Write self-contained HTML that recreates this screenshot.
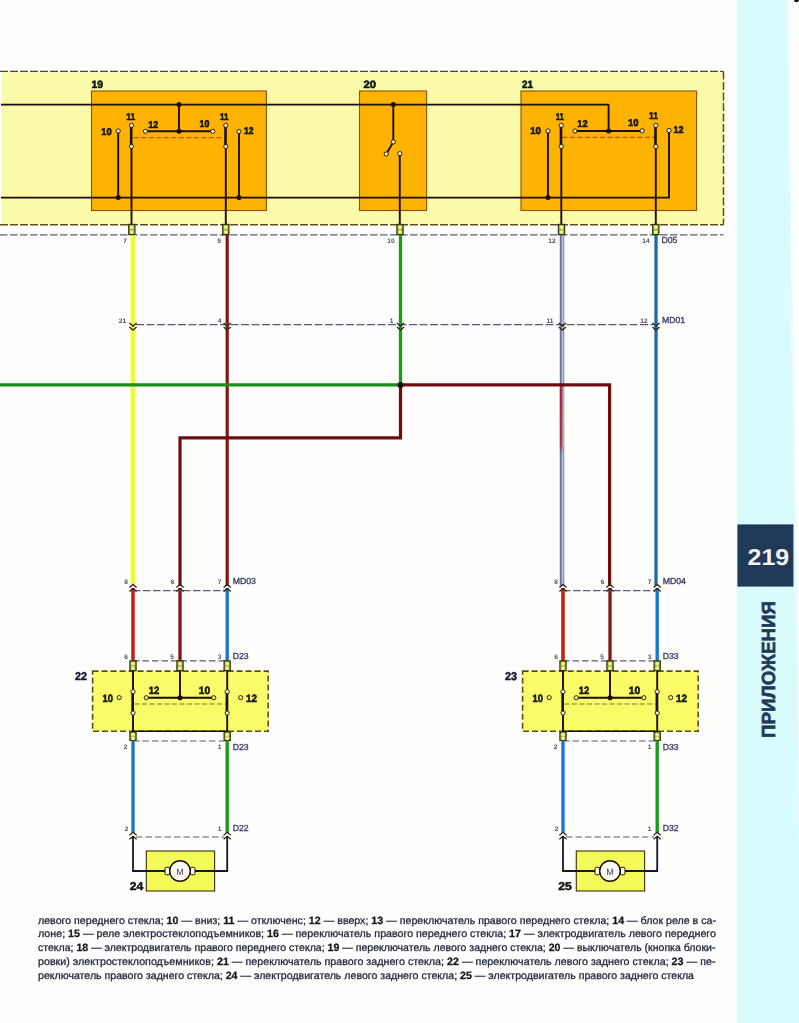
<!DOCTYPE html>
<html><head><meta charset="utf-8"><style>html,body{margin:0;padding:0;width:799px;height:1023px;overflow:hidden;background:#fefefd;font-family:"Liberation Sans",sans-serif}</style></head>
<body>
<svg width="799" height="1023" viewBox="0 0 799 1023" style="position:absolute;left:0;top:0" text-rendering="geometricPrecision">
<defs><filter id="bl" x="-30%" y="-5%" width="160%" height="110%"><feGaussianBlur stdDeviation="1.8"/></filter><filter id="sb" x="-5%" y="-5%" width="110%" height="110%"><feGaussianBlur stdDeviation="0.35"/></filter></defs>
<rect x="0" y="0" width="799" height="1023" fill="#fefefd" stroke="none" stroke-width="0" />
<polygon points="736.5,-10 787.5,-10 803,1035 736.5,1035" fill="#d8fbfb" filter="url(#bl)"/>
<ellipse cx="796.5" cy="0" rx="2.5" ry="2.3" fill="#111"/>
<g filter="url(#sb)">
<rect x="1.5" y="72.2" width="722" height="152.3" fill="#fbfaa9" stroke="none" stroke-width="0" />
<line x1="723.5" y1="71.5" x2="723.5" y2="224.8" stroke="#5e5018" stroke-width="1.5" stroke-dasharray="8 2.5"/>
<line x1="0" y1="224.8" x2="723.5" y2="224.8" stroke="#5e5018" stroke-width="1.5" stroke-dasharray="8 2"/>
<line x1="0" y1="71.4" x2="723.5" y2="71.4" stroke="#4a4a3a" stroke-width="1.4" stroke-dasharray="8 2"/>
<line x1="0" y1="234.8" x2="723.5" y2="234.8" stroke="#585a80" stroke-width="1.3" stroke-dasharray="7.5 2.5"/>
<rect x="91.5" y="91" width="174.89999999999998" height="119.5" fill="#fdb300" stroke="#8a5208" stroke-width="1.1" />
<rect x="359.5" y="91" width="67.10000000000002" height="119.5" fill="#fdb300" stroke="#8a5208" stroke-width="1.1" />
<rect x="521" y="91" width="175.60000000000002" height="119.5" fill="#fdb300" stroke="#8a5208" stroke-width="1.1" />
<line x1="1" y1="104.6" x2="609" y2="104.6" stroke="#1c0c06" stroke-width="1.9" />
<line x1="608.6" y1="104.6" x2="608.6" y2="131" stroke="#1c0c06" stroke-width="1.9" />
<line x1="1" y1="197.6" x2="669.8" y2="197.6" stroke="#1c0c06" stroke-width="1.9" />
<circle cx="179" cy="104.6" r="2.5" fill="#1c0c06" stroke="none" stroke-width="0"/>
<line x1="179" y1="104.6" x2="179" y2="131.3" stroke="#1c0c06" stroke-width="1.9" />
<line x1="145.4" y1="131.3" x2="212.8" y2="131.3" stroke="#1c0c06" stroke-width="1.9" />
<circle cx="179" cy="131.3" r="2.5" fill="#1c0c06" stroke="none" stroke-width="0"/>
<line x1="118.2" y1="131" x2="118.2" y2="197.6" stroke="#1c0c06" stroke-width="1.9" />
<circle cx="118.2" cy="197.6" r="2.5" fill="#1c0c06" stroke="none" stroke-width="0"/>
<line x1="239" y1="131.5" x2="239" y2="197.6" stroke="#1c0c06" stroke-width="1.9" />
<circle cx="239" cy="197.6" r="2.5" fill="#1c0c06" stroke="none" stroke-width="0"/>
<line x1="133.8" y1="137.6" x2="223.5" y2="137.6" stroke="#c45010" stroke-width="1.1" stroke-dasharray="5 2.5"/>
<circle cx="145.4" cy="131.3" r="2.1" fill="#fff4d8" stroke="#1c0c06" stroke-width="0.9"/>
<circle cx="212.8" cy="131.3" r="2.1" fill="#fff4d8" stroke="#1c0c06" stroke-width="0.9"/>
<circle cx="118.2" cy="131" r="2.1" fill="#fff4d8" stroke="#1c0c06" stroke-width="0.9"/>
<circle cx="239" cy="131.5" r="2.1" fill="#fff4d8" stroke="#1c0c06" stroke-width="0.9"/>
<line x1="131.2" y1="126.5" x2="131.2" y2="145" stroke="#1c0c06" stroke-width="2.6" />
<circle cx="131.5" cy="125.4" r="2.1" fill="#fff4d8" stroke="#1c0c06" stroke-width="0.9"/>
<circle cx="131.5" cy="146.5" r="2.1" fill="#fff4d8" stroke="#1c0c06" stroke-width="0.9"/>
<line x1="131.5" y1="148.5" x2="131.5" y2="224.5" stroke="#1c0c06" stroke-width="1.9" />
<line x1="225.5" y1="126.5" x2="225.5" y2="145" stroke="#1c0c06" stroke-width="2.6" />
<circle cx="225.8" cy="125.4" r="2.1" fill="#fff4d8" stroke="#1c0c06" stroke-width="0.9"/>
<circle cx="225.8" cy="146.5" r="2.1" fill="#fff4d8" stroke="#1c0c06" stroke-width="0.9"/>
<line x1="225.8" y1="148.5" x2="225.8" y2="224.5" stroke="#1c0c06" stroke-width="1.9" />
<line x1="575" y1="131" x2="642.2" y2="131" stroke="#1c0c06" stroke-width="1.9" />
<circle cx="608.6" cy="131" r="2.5" fill="#1c0c06" stroke="none" stroke-width="0"/>
<line x1="548" y1="131" x2="548" y2="197.6" stroke="#1c0c06" stroke-width="1.9" />
<circle cx="548" cy="197.6" r="2.5" fill="#1c0c06" stroke="none" stroke-width="0"/>
<line x1="669" y1="130.5" x2="669" y2="197.6" stroke="#1c0c06" stroke-width="1.9" />
<line x1="562.5" y1="137.4" x2="654.5" y2="137.4" stroke="#c45010" stroke-width="1.1" stroke-dasharray="5 2.5"/>
<circle cx="575" cy="131" r="2.1" fill="#fff4d8" stroke="#1c0c06" stroke-width="0.9"/>
<circle cx="642.2" cy="130.8" r="2.1" fill="#fff4d8" stroke="#1c0c06" stroke-width="0.9"/>
<circle cx="548" cy="131" r="2.1" fill="#fff4d8" stroke="#1c0c06" stroke-width="0.9"/>
<circle cx="669" cy="130.5" r="2.1" fill="#fff4d8" stroke="#1c0c06" stroke-width="0.9"/>
<line x1="561.0" y1="126.5" x2="561.0" y2="145" stroke="#1c0c06" stroke-width="2.6" />
<circle cx="561.3" cy="125.4" r="2.1" fill="#fff4d8" stroke="#1c0c06" stroke-width="0.9"/>
<circle cx="561.3" cy="146.5" r="2.1" fill="#fff4d8" stroke="#1c0c06" stroke-width="0.9"/>
<line x1="561.3" y1="148.5" x2="561.3" y2="224.5" stroke="#1c0c06" stroke-width="1.9" />
<line x1="655.5" y1="126.5" x2="655.5" y2="145" stroke="#1c0c06" stroke-width="2.6" />
<circle cx="655.8" cy="125.4" r="2.1" fill="#fff4d8" stroke="#1c0c06" stroke-width="0.9"/>
<circle cx="655.8" cy="146.5" r="2.1" fill="#fff4d8" stroke="#1c0c06" stroke-width="0.9"/>
<line x1="655.8" y1="148.5" x2="655.8" y2="224.5" stroke="#1c0c06" stroke-width="1.9" />
<circle cx="393.3" cy="104.6" r="2.5" fill="#1c0c06" stroke="none" stroke-width="0"/>
<line x1="393.3" y1="104.6" x2="393.3" y2="140" stroke="#1c0c06" stroke-width="1.9" />
<line x1="392.3" y1="143.6" x2="387.4" y2="152.3" stroke="#1c0c06" stroke-width="1.9" />
<circle cx="393.3" cy="141.9" r="2.1" fill="#fff4d8" stroke="#1c0c06" stroke-width="0.9"/>
<circle cx="386.2" cy="154" r="2.1" fill="#fff4d8" stroke="#1c0c06" stroke-width="0.9"/>
<circle cx="399.8" cy="153.6" r="2.1" fill="#fff4d8" stroke="#1c0c06" stroke-width="0.9"/>
<line x1="399.8" y1="155.6" x2="399.8" y2="224.5" stroke="#1c0c06" stroke-width="1.9" />
<text x="91.5" y="87.6" font-size="10.5" fill="#141414" font-weight="bold" text-anchor="start" font-family="Liberation Sans, sans-serif" textLength="11.5" lengthAdjust="spacingAndGlyphs" stroke="#141414" stroke-width="0.6">19</text>
<text x="363.6" y="87.6" font-size="10.5" fill="#141414" font-weight="bold" text-anchor="start" font-family="Liberation Sans, sans-serif" textLength="12.5" lengthAdjust="spacingAndGlyphs" stroke="#141414" stroke-width="0.6">20</text>
<text x="522" y="87.6" font-size="10.5" fill="#141414" font-weight="bold" text-anchor="start" font-family="Liberation Sans, sans-serif" textLength="11" lengthAdjust="spacingAndGlyphs" stroke="#141414" stroke-width="0.6">21</text>
<text x="101.3" y="134.70000000000002" font-size="9.9" fill="#141414" font-weight="bold" text-anchor="start" font-family="Liberation Sans, sans-serif" textLength="10.3" lengthAdjust="spacingAndGlyphs" stroke="#141414" stroke-width="0.6">10</text>
<text x="126.3" y="120.3" font-size="9.9" fill="#141414" font-weight="bold" text-anchor="start" font-family="Liberation Sans, sans-serif" textLength="9.0" lengthAdjust="spacingAndGlyphs" stroke="#141414" stroke-width="0.6">11</text>
<text x="148.2" y="127.6" font-size="9.9" fill="#141414" font-weight="bold" text-anchor="start" font-family="Liberation Sans, sans-serif" textLength="10.0" lengthAdjust="spacingAndGlyphs" stroke="#141414" stroke-width="0.6">12</text>
<text x="199.5" y="126.8" font-size="9.9" fill="#141414" font-weight="bold" text-anchor="start" font-family="Liberation Sans, sans-serif" textLength="9.8" lengthAdjust="spacingAndGlyphs" stroke="#141414" stroke-width="0.6">10</text>
<text x="220" y="120.3" font-size="9.9" fill="#141414" font-weight="bold" text-anchor="start" font-family="Liberation Sans, sans-serif" textLength="8.5" lengthAdjust="spacingAndGlyphs" stroke="#141414" stroke-width="0.6">11</text>
<text x="244" y="134.3" font-size="9.9" fill="#141414" font-weight="bold" text-anchor="start" font-family="Liberation Sans, sans-serif" textLength="9.6" lengthAdjust="spacingAndGlyphs" stroke="#141414" stroke-width="0.6">12</text>
<text x="530.3" y="134.10000000000002" font-size="9.9" fill="#141414" font-weight="bold" text-anchor="start" font-family="Liberation Sans, sans-serif" textLength="10.6" lengthAdjust="spacingAndGlyphs" stroke="#141414" stroke-width="0.6">10</text>
<text x="555.7" y="119.7" font-size="9.9" fill="#141414" font-weight="bold" text-anchor="start" font-family="Liberation Sans, sans-serif" textLength="8.1" lengthAdjust="spacingAndGlyphs" stroke="#141414" stroke-width="0.6">11</text>
<text x="577.3" y="126.6" font-size="9.9" fill="#141414" font-weight="bold" text-anchor="start" font-family="Liberation Sans, sans-serif" textLength="10.3" lengthAdjust="spacingAndGlyphs" stroke="#141414" stroke-width="0.6">12</text>
<text x="628" y="125.8" font-size="9.9" fill="#141414" font-weight="bold" text-anchor="start" font-family="Liberation Sans, sans-serif" textLength="10.5" lengthAdjust="spacingAndGlyphs" stroke="#141414" stroke-width="0.6">10</text>
<text x="649" y="119.3" font-size="9.9" fill="#141414" font-weight="bold" text-anchor="start" font-family="Liberation Sans, sans-serif" textLength="9.0" lengthAdjust="spacingAndGlyphs" stroke="#141414" stroke-width="0.6">11</text>
<text x="673.5" y="133.3" font-size="9.9" fill="#141414" font-weight="bold" text-anchor="start" font-family="Liberation Sans, sans-serif" textLength="10.1" lengthAdjust="spacingAndGlyphs" stroke="#141414" stroke-width="0.6">12</text>
<line x1="133" y1="235" x2="133" y2="584" stroke="#f8fca0" stroke-width="6" />
<line x1="133" y1="235" x2="133" y2="584" stroke="#eef83c" stroke-width="4" />
<line x1="227.2" y1="235" x2="227.2" y2="586" stroke="#80180e" stroke-width="3.2" />
<line x1="400.5" y1="235" x2="400.5" y2="385" stroke="#1c9a1c" stroke-width="3.3" />
<line x1="0" y1="384.9" x2="400.5" y2="384.9" stroke="#1a8e1a" stroke-width="3.2" />
<line x1="562.1" y1="235" x2="562.1" y2="586" stroke="#8c95b2" stroke-width="4.5" />
<line x1="560.6" y1="235" x2="560.6" y2="586" stroke="#6a7494" stroke-width="1.4" />
<line x1="562.5" y1="235" x2="562.5" y2="586" stroke="#b8c0da" stroke-width="1.3" />
<defs><linearGradient id="rg" x1="0" y1="0" x2="0" y2="1"><stop offset="0" stop-color="#a02838" stop-opacity="0.95"/><stop offset="0.8" stop-color="#a02838" stop-opacity="0.8"/><stop offset="1" stop-color="#a02838" stop-opacity="0"/></linearGradient></defs>
<rect x="559.8" y="386" width="2.8" height="70" fill="url(#rg)" stroke="none" stroke-width="0" />
<rect x="562.6" y="386" width="1" height="60" fill="#e8b8c0" stroke="none" stroke-width="0" opacity="0.8"/>
<line x1="656" y1="235" x2="656" y2="586" stroke="#1a6aae" stroke-width="3.3" />
<polyline points="400.5,384.9 400.5,437.9 180,437.9 180,586" fill="none" stroke="#6e1010" stroke-width="3.2" stroke-linejoin="miter" />
<polyline points="400.5,384.9 609.6,384.9 609.6,586" fill="none" stroke="#6e1010" stroke-width="3.2" stroke-linejoin="miter" />
<circle cx="400.5" cy="384.9" r="3" fill="#1c0c06" stroke="none" stroke-width="0"/>
<rect x="128.70000000000002" y="224.4" width="6.2" height="10.2" fill="#a8b030" stroke="#34340a" stroke-width="1.2" />
<circle cx="131.8" cy="227.3" r="1.9" fill="#e8f290" stroke="none" stroke-width="0"/>
<circle cx="131.8" cy="232.03" r="1.9" fill="#e8f290" stroke="none" stroke-width="0"/>
<rect x="222.70000000000002" y="224.4" width="6.2" height="10.2" fill="#a8b030" stroke="#34340a" stroke-width="1.2" />
<circle cx="225.8" cy="227.3" r="1.9" fill="#e8f290" stroke="none" stroke-width="0"/>
<circle cx="225.8" cy="232.03" r="1.9" fill="#e8f290" stroke="none" stroke-width="0"/>
<rect x="396.9" y="224.4" width="6.2" height="10.2" fill="#a8b030" stroke="#34340a" stroke-width="1.2" />
<circle cx="400" cy="227.3" r="1.9" fill="#e8f290" stroke="none" stroke-width="0"/>
<circle cx="400" cy="232.03" r="1.9" fill="#e8f290" stroke="none" stroke-width="0"/>
<rect x="558.4" y="224.4" width="6.2" height="10.2" fill="#a8b030" stroke="#34340a" stroke-width="1.2" />
<circle cx="561.5" cy="227.3" r="1.9" fill="#e8f290" stroke="none" stroke-width="0"/>
<circle cx="561.5" cy="232.03" r="1.9" fill="#e8f290" stroke="none" stroke-width="0"/>
<rect x="652.6999999999999" y="224.4" width="6.2" height="10.2" fill="#a8b030" stroke="#34340a" stroke-width="1.2" />
<circle cx="655.8" cy="227.3" r="1.9" fill="#e8f290" stroke="none" stroke-width="0"/>
<circle cx="655.8" cy="232.03" r="1.9" fill="#e8f290" stroke="none" stroke-width="0"/>
<line x1="136" y1="324.7" x2="653" y2="324.7" stroke="#585a80" stroke-width="1.2" stroke-dasharray="8 2.5"/>
<polyline points="129.4,323.0 133,326.0 136.6,323.0" fill="none" stroke="#3a2a18" stroke-width="1.4"/>
<polyline points="129.4,327.0 133,330.0 136.6,327.0" fill="none" stroke="#3a2a18" stroke-width="1.4"/>
<polyline points="223.6,323.0 227.2,326.0 230.79999999999998,323.0" fill="none" stroke="#3a2a18" stroke-width="1.4"/>
<polyline points="223.6,327.0 227.2,330.0 230.79999999999998,327.0" fill="none" stroke="#3a2a18" stroke-width="1.4"/>
<polyline points="396.9,323.0 400.5,326.0 404.1,323.0" fill="none" stroke="#3a2a18" stroke-width="1.4"/>
<polyline points="396.9,327.0 400.5,330.0 404.1,327.0" fill="none" stroke="#3a2a18" stroke-width="1.4"/>
<polyline points="558.8,323.0 562.4,326.0 566.0,323.0" fill="none" stroke="#3a2a18" stroke-width="1.4"/>
<polyline points="558.8,327.0 562.4,330.0 566.0,327.0" fill="none" stroke="#3a2a18" stroke-width="1.4"/>
<polyline points="652.4,323.0 656,326.0 659.6,323.0" fill="none" stroke="#3a2a18" stroke-width="1.4"/>
<polyline points="652.4,327.0 656,330.0 659.6,327.0" fill="none" stroke="#3a2a18" stroke-width="1.4"/>
<text x="122.5" y="322.5" font-size="6.6" fill="#50505e" font-weight="bold" text-anchor="middle" font-family="Liberation Sans, sans-serif" >21</text>
<text x="219.5" y="322.5" font-size="6.6" fill="#50505e" font-weight="bold" text-anchor="middle" font-family="Liberation Sans, sans-serif" >4</text>
<text x="391.5" y="322.5" font-size="6.6" fill="#50505e" font-weight="bold" text-anchor="middle" font-family="Liberation Sans, sans-serif" >1</text>
<text x="550" y="322.5" font-size="6.6" fill="#50505e" font-weight="bold" text-anchor="middle" font-family="Liberation Sans, sans-serif" >11</text>
<text x="644" y="322.5" font-size="6.6" fill="#50505e" font-weight="bold" text-anchor="middle" font-family="Liberation Sans, sans-serif" >12</text>
<text x="662" y="322.5" font-size="8.7" fill="#3c3e68" font-weight="normal" text-anchor="start" font-family="Liberation Sans, sans-serif" stroke="#3c3e68" stroke-width="0.35">MD01</text>
<text x="125" y="242.5" font-size="6.6" fill="#50505e" font-weight="bold" text-anchor="middle" font-family="Liberation Sans, sans-serif" >7</text>
<text x="219" y="242.5" font-size="6.6" fill="#50505e" font-weight="bold" text-anchor="middle" font-family="Liberation Sans, sans-serif" >9</text>
<text x="391" y="242.5" font-size="6.6" fill="#50505e" font-weight="bold" text-anchor="middle" font-family="Liberation Sans, sans-serif" >10</text>
<text x="552" y="242.5" font-size="6.6" fill="#50505e" font-weight="bold" text-anchor="middle" font-family="Liberation Sans, sans-serif" >12</text>
<text x="646" y="242.5" font-size="6.6" fill="#50505e" font-weight="bold" text-anchor="middle" font-family="Liberation Sans, sans-serif" >14</text>
<text x="661.5" y="242.8" font-size="8.7" fill="#3c3e68" font-weight="normal" text-anchor="start" font-family="Liberation Sans, sans-serif" stroke="#3c3e68" stroke-width="0.35">D05</text>
<line x1="133" y1="588" x2="133" y2="661" stroke="#c41c16" stroke-width="3.5" />
<line x1="180" y1="588" x2="180" y2="661" stroke="#80180e" stroke-width="3.3" />
<line x1="227.2" y1="588" x2="227.2" y2="661" stroke="#1c76d4" stroke-width="3.4" />
<line x1="133" y1="590.7" x2="227.2" y2="590.7" stroke="#585a80" stroke-width="1.2" stroke-dasharray="7.5 2.5"/>
<polyline points="129.4,591.5 133,588.5 136.6,591.5" fill="none" stroke="#3a2a18" stroke-width="1.4"/>
<polyline points="129.4,587.5 133,584.5 136.6,587.5" fill="none" stroke="#3a2a18" stroke-width="1.4"/>
<polyline points="176.4,591.5 180,588.5 183.6,591.5" fill="none" stroke="#3a2a18" stroke-width="1.4"/>
<polyline points="176.4,587.5 180,584.5 183.6,587.5" fill="none" stroke="#3a2a18" stroke-width="1.4"/>
<polyline points="223.6,591.5 227.2,588.5 230.79999999999998,591.5" fill="none" stroke="#3a2a18" stroke-width="1.4"/>
<polyline points="223.6,587.5 227.2,584.5 230.79999999999998,587.5" fill="none" stroke="#3a2a18" stroke-width="1.4"/>
<text x="126" y="583.5" font-size="6.6" fill="#50505e" font-weight="bold" text-anchor="middle" font-family="Liberation Sans, sans-serif" >8</text>
<text x="172.5" y="583.5" font-size="6.6" fill="#50505e" font-weight="bold" text-anchor="middle" font-family="Liberation Sans, sans-serif" >6</text>
<text x="219.7" y="583.5" font-size="6.6" fill="#50505e" font-weight="bold" text-anchor="middle" font-family="Liberation Sans, sans-serif" >7</text>
<text x="232.7" y="583.8" font-size="8.7" fill="#3c3e68" font-weight="normal" text-anchor="start" font-family="Liberation Sans, sans-serif" stroke="#3c3e68" stroke-width="0.35">MD03</text>
<line x1="133" y1="660.8" x2="227.2" y2="660.8" stroke="#585a80" stroke-width="1.2" stroke-dasharray="6.5 3"/>
<rect x="92.6" y="671.1" width="175.6" height="60.2" fill="#f9fb68" stroke="none" stroke-width="0" />
<rect x="92.6" y="671.1" width="175.6" height="60.2" fill="none" stroke="#5e5018" stroke-width="1.6" stroke-dasharray="6 3"/>
<line x1="133" y1="731.2" x2="227.2" y2="731.2" stroke="#1c0c06" stroke-width="1.4" />
<rect x="129.9" y="660.9" width="6.2" height="9.7" fill="#a8b030" stroke="#34340a" stroke-width="1.2" />
<circle cx="133" cy="663.65" r="1.9" fill="#e8f290" stroke="none" stroke-width="0"/>
<circle cx="133" cy="668.165" r="1.9" fill="#e8f290" stroke="none" stroke-width="0"/>
<rect x="176.9" y="660.9" width="6.2" height="9.7" fill="#a8b030" stroke="#34340a" stroke-width="1.2" />
<circle cx="180" cy="663.65" r="1.9" fill="#e8f290" stroke="none" stroke-width="0"/>
<circle cx="180" cy="668.165" r="1.9" fill="#e8f290" stroke="none" stroke-width="0"/>
<rect x="224.1" y="660.9" width="6.2" height="9.7" fill="#a8b030" stroke="#34340a" stroke-width="1.2" />
<circle cx="227.2" cy="663.65" r="1.9" fill="#e8f290" stroke="none" stroke-width="0"/>
<circle cx="227.2" cy="668.165" r="1.9" fill="#e8f290" stroke="none" stroke-width="0"/>
<text x="126" y="658.8" font-size="6.6" fill="#50505e" font-weight="bold" text-anchor="middle" font-family="Liberation Sans, sans-serif" >6</text>
<text x="172" y="658.8" font-size="6.6" fill="#50505e" font-weight="bold" text-anchor="middle" font-family="Liberation Sans, sans-serif" >5</text>
<text x="219.7" y="658.8" font-size="6.6" fill="#50505e" font-weight="bold" text-anchor="middle" font-family="Liberation Sans, sans-serif" >3</text>
<text x="232.7" y="659.2" font-size="8.7" fill="#3c3e68" font-weight="normal" text-anchor="start" font-family="Liberation Sans, sans-serif" stroke="#3c3e68" stroke-width="0.35">D23</text>
<text x="74.9" y="680" font-size="11.4" fill="#141830" font-weight="bold" text-anchor="start" font-family="Liberation Sans, sans-serif" textLength="12" lengthAdjust="spacingAndGlyphs" stroke="#141830" stroke-width="0.5">22</text>
<line x1="180" y1="671" x2="180" y2="697.7" stroke="#1c0c06" stroke-width="1.9" />
<line x1="146.3" y1="697.7" x2="213.8" y2="697.7" stroke="#1c0c06" stroke-width="1.9" />
<circle cx="180" cy="697.7" r="2.5" fill="#1c0c06" stroke="none" stroke-width="0"/>
<circle cx="146.3" cy="697.7" r="2.1" fill="#f9fb68" stroke="#1c0c06" stroke-width="0.9"/>
<circle cx="213.8" cy="697.7" r="2.1" fill="#f9fb68" stroke="#1c0c06" stroke-width="0.9"/>
<circle cx="119.2" cy="697.6" r="2.1" fill="#f9fb68" stroke="#1c0c06" stroke-width="0.9"/>
<circle cx="240.7" cy="697.6" r="2.1" fill="#f9fb68" stroke="#1c0c06" stroke-width="0.9"/>
<text x="102.5" y="702.0" font-size="10.6" fill="#141414" font-weight="bold" text-anchor="start" font-family="Liberation Sans, sans-serif" textLength="10.4" lengthAdjust="spacingAndGlyphs" stroke="#141414" stroke-width="0.6">10</text>
<text x="148.8" y="694.0999999999999" font-size="10.6" fill="#141414" font-weight="bold" text-anchor="start" font-family="Liberation Sans, sans-serif" textLength="10.5" lengthAdjust="spacingAndGlyphs" stroke="#141414" stroke-width="0.6">12</text>
<text x="198.8" y="694.0999999999999" font-size="10.6" fill="#141414" font-weight="bold" text-anchor="start" font-family="Liberation Sans, sans-serif" textLength="11.3" lengthAdjust="spacingAndGlyphs" stroke="#141414" stroke-width="0.6">10</text>
<text x="246" y="702.0" font-size="10.6" fill="#141414" font-weight="bold" text-anchor="start" font-family="Liberation Sans, sans-serif" textLength="11.0" lengthAdjust="spacingAndGlyphs" stroke="#141414" stroke-width="0.6">12</text>
<line x1="134.5" y1="704" x2="225.7" y2="704" stroke="#7a7420" stroke-width="1.1" stroke-dasharray="5 2.5"/>
<line x1="133" y1="671" x2="133" y2="732" stroke="#1c0c06" stroke-width="1.9" />
<line x1="132.7" y1="693" x2="132.7" y2="711.5" stroke="#1c0c06" stroke-width="2.6" />
<circle cx="133" cy="691.7" r="2.1" fill="#fffbe0" stroke="#1c0c06" stroke-width="0.9"/>
<circle cx="133" cy="713" r="2.1" fill="#fffbe0" stroke="#1c0c06" stroke-width="0.9"/>
<line x1="227.2" y1="671" x2="227.2" y2="732" stroke="#1c0c06" stroke-width="1.9" />
<line x1="226.89999999999998" y1="693" x2="226.89999999999998" y2="711.5" stroke="#1c0c06" stroke-width="2.6" />
<circle cx="227.2" cy="691.7" r="2.1" fill="#fffbe0" stroke="#1c0c06" stroke-width="0.9"/>
<circle cx="227.2" cy="713" r="2.1" fill="#fffbe0" stroke="#1c0c06" stroke-width="0.9"/>
<rect x="129.9" y="732.1999999999999" width="6.2" height="8.2" fill="#a8b030" stroke="#34340a" stroke-width="1.2" />
<circle cx="133" cy="734.5" r="1.9" fill="#e8f290" stroke="none" stroke-width="0"/>
<circle cx="133" cy="738.37" r="1.9" fill="#e8f290" stroke="none" stroke-width="0"/>
<rect x="224.1" y="732.1999999999999" width="6.2" height="8.2" fill="#a8b030" stroke="#34340a" stroke-width="1.2" />
<circle cx="227.2" cy="734.5" r="1.9" fill="#e8f290" stroke="none" stroke-width="0"/>
<circle cx="227.2" cy="738.37" r="1.9" fill="#e8f290" stroke="none" stroke-width="0"/>
<line x1="133" y1="741" x2="227.2" y2="741" stroke="#585a80" stroke-width="1.2" stroke-dasharray="6.5 3"/>
<text x="125.5" y="749" font-size="6.6" fill="#50505e" font-weight="bold" text-anchor="middle" font-family="Liberation Sans, sans-serif" >2</text>
<text x="219.7" y="749" font-size="6.6" fill="#50505e" font-weight="bold" text-anchor="middle" font-family="Liberation Sans, sans-serif" >1</text>
<text x="232.7" y="749.5" font-size="8.7" fill="#3c3e68" font-weight="normal" text-anchor="start" font-family="Liberation Sans, sans-serif" stroke="#3c3e68" stroke-width="0.35">D23</text>
<line x1="133" y1="741" x2="133" y2="833" stroke="#1c76d4" stroke-width="3.4" />
<line x1="227.2" y1="741" x2="227.2" y2="833" stroke="#1c9a1c" stroke-width="3.4" />
<line x1="136" y1="837" x2="224.2" y2="837" stroke="#585a80" stroke-width="1.2" stroke-dasharray="6.5 3"/>
<polyline points="129.4,839.3 133,836.3 136.6,839.3" fill="none" stroke="#3a2a18" stroke-width="1.4"/>
<polyline points="129.4,835.3 133,832.3 136.6,835.3" fill="none" stroke="#3a2a18" stroke-width="1.4"/>
<polyline points="223.6,839.3 227.2,836.3 230.79999999999998,839.3" fill="none" stroke="#3a2a18" stroke-width="1.4"/>
<polyline points="223.6,835.3 227.2,832.3 230.79999999999998,835.3" fill="none" stroke="#3a2a18" stroke-width="1.4"/>
<text x="126.5" y="830.5" font-size="6.6" fill="#50505e" font-weight="bold" text-anchor="middle" font-family="Liberation Sans, sans-serif" >2</text>
<text x="219.7" y="830.5" font-size="6.6" fill="#50505e" font-weight="bold" text-anchor="middle" font-family="Liberation Sans, sans-serif" >1</text>
<text x="232.7" y="830.8" font-size="8.7" fill="#3c3e68" font-weight="normal" text-anchor="start" font-family="Liberation Sans, sans-serif" stroke="#3c3e68" stroke-width="0.35">D22</text>
<rect x="146.3" y="851" width="68.3" height="40" fill="#f4fa58" stroke="#3a3010" stroke-width="1.1" />
<polyline points="133,836 133,871 227.2,871 227.2,836" fill="none" stroke="#141826" stroke-width="1.8" stroke-linejoin="miter" />
<rect x="165" y="867.3" width="4.6" height="7.5" fill="#fffce8" stroke="#1c0c06" stroke-width="1" rx="1.5"/>
<rect x="190.4" y="867.3" width="4.6" height="7.5" fill="#fffce8" stroke="#1c0c06" stroke-width="1" rx="1.5"/>
<circle cx="180" cy="871" r="10.3" fill="#fbf8ee" stroke="#1c0c06" stroke-width="1.4"/>
<text x="180" y="875" font-size="9" fill="#4a4070" font-weight="normal" text-anchor="middle" font-family="Liberation Sans, sans-serif" >M</text>
<text x="129.8" y="889.5" font-size="11.4" fill="#141414" font-weight="bold" text-anchor="start" font-family="Liberation Sans, sans-serif" textLength="13.5" lengthAdjust="spacingAndGlyphs" stroke="#141414" stroke-width="0.5">24</text>
<line x1="563" y1="588" x2="563" y2="661" stroke="#c41c16" stroke-width="3.5" />
<line x1="610" y1="588" x2="610" y2="661" stroke="#80180e" stroke-width="3.3" />
<line x1="657.2" y1="588" x2="657.2" y2="661" stroke="#1c76d4" stroke-width="3.4" />
<line x1="563" y1="590.7" x2="657.2" y2="590.7" stroke="#585a80" stroke-width="1.2" stroke-dasharray="7.5 2.5"/>
<polyline points="559.4,591.5 563,588.5 566.6,591.5" fill="none" stroke="#3a2a18" stroke-width="1.4"/>
<polyline points="559.4,587.5 563,584.5 566.6,587.5" fill="none" stroke="#3a2a18" stroke-width="1.4"/>
<polyline points="606.4,591.5 610,588.5 613.6,591.5" fill="none" stroke="#3a2a18" stroke-width="1.4"/>
<polyline points="606.4,587.5 610,584.5 613.6,587.5" fill="none" stroke="#3a2a18" stroke-width="1.4"/>
<polyline points="653.6,591.5 657.2,588.5 660.8000000000001,591.5" fill="none" stroke="#3a2a18" stroke-width="1.4"/>
<polyline points="653.6,587.5 657.2,584.5 660.8000000000001,587.5" fill="none" stroke="#3a2a18" stroke-width="1.4"/>
<text x="556" y="583.5" font-size="6.6" fill="#50505e" font-weight="bold" text-anchor="middle" font-family="Liberation Sans, sans-serif" >8</text>
<text x="602.5" y="583.5" font-size="6.6" fill="#50505e" font-weight="bold" text-anchor="middle" font-family="Liberation Sans, sans-serif" >6</text>
<text x="649.7" y="583.5" font-size="6.6" fill="#50505e" font-weight="bold" text-anchor="middle" font-family="Liberation Sans, sans-serif" >7</text>
<text x="662.7" y="583.8" font-size="8.7" fill="#3c3e68" font-weight="normal" text-anchor="start" font-family="Liberation Sans, sans-serif" stroke="#3c3e68" stroke-width="0.35">MD04</text>
<line x1="563" y1="660.8" x2="657.2" y2="660.8" stroke="#585a80" stroke-width="1.2" stroke-dasharray="6.5 3"/>
<rect x="522.6" y="671.1" width="175.6" height="60.2" fill="#f9fb68" stroke="none" stroke-width="0" />
<rect x="522.6" y="671.1" width="175.6" height="60.2" fill="none" stroke="#5e5018" stroke-width="1.6" stroke-dasharray="6 3"/>
<line x1="563" y1="731.2" x2="657.2" y2="731.2" stroke="#1c0c06" stroke-width="1.4" />
<rect x="559.9" y="660.9" width="6.2" height="9.7" fill="#a8b030" stroke="#34340a" stroke-width="1.2" />
<circle cx="563" cy="663.65" r="1.9" fill="#e8f290" stroke="none" stroke-width="0"/>
<circle cx="563" cy="668.165" r="1.9" fill="#e8f290" stroke="none" stroke-width="0"/>
<rect x="606.9" y="660.9" width="6.2" height="9.7" fill="#a8b030" stroke="#34340a" stroke-width="1.2" />
<circle cx="610" cy="663.65" r="1.9" fill="#e8f290" stroke="none" stroke-width="0"/>
<circle cx="610" cy="668.165" r="1.9" fill="#e8f290" stroke="none" stroke-width="0"/>
<rect x="654.1" y="660.9" width="6.2" height="9.7" fill="#a8b030" stroke="#34340a" stroke-width="1.2" />
<circle cx="657.2" cy="663.65" r="1.9" fill="#e8f290" stroke="none" stroke-width="0"/>
<circle cx="657.2" cy="668.165" r="1.9" fill="#e8f290" stroke="none" stroke-width="0"/>
<text x="556" y="658.8" font-size="6.6" fill="#50505e" font-weight="bold" text-anchor="middle" font-family="Liberation Sans, sans-serif" >6</text>
<text x="602" y="658.8" font-size="6.6" fill="#50505e" font-weight="bold" text-anchor="middle" font-family="Liberation Sans, sans-serif" >5</text>
<text x="649.7" y="658.8" font-size="6.6" fill="#50505e" font-weight="bold" text-anchor="middle" font-family="Liberation Sans, sans-serif" >3</text>
<text x="662.7" y="659.2" font-size="8.7" fill="#3c3e68" font-weight="normal" text-anchor="start" font-family="Liberation Sans, sans-serif" stroke="#3c3e68" stroke-width="0.35">D33</text>
<text x="504.9" y="680" font-size="11.4" fill="#141830" font-weight="bold" text-anchor="start" font-family="Liberation Sans, sans-serif" textLength="12" lengthAdjust="spacingAndGlyphs" stroke="#141830" stroke-width="0.5">23</text>
<line x1="610" y1="671" x2="610" y2="697.7" stroke="#1c0c06" stroke-width="1.9" />
<line x1="576.3" y1="697.7" x2="643.8" y2="697.7" stroke="#1c0c06" stroke-width="1.9" />
<circle cx="610" cy="697.7" r="2.5" fill="#1c0c06" stroke="none" stroke-width="0"/>
<circle cx="576.3" cy="697.7" r="2.1" fill="#f9fb68" stroke="#1c0c06" stroke-width="0.9"/>
<circle cx="643.8" cy="697.7" r="2.1" fill="#f9fb68" stroke="#1c0c06" stroke-width="0.9"/>
<circle cx="549.2" cy="697.6" r="2.1" fill="#f9fb68" stroke="#1c0c06" stroke-width="0.9"/>
<circle cx="670.7" cy="697.6" r="2.1" fill="#f9fb68" stroke="#1c0c06" stroke-width="0.9"/>
<text x="532.5" y="702.0" font-size="10.6" fill="#141414" font-weight="bold" text-anchor="start" font-family="Liberation Sans, sans-serif" textLength="10.4" lengthAdjust="spacingAndGlyphs" stroke="#141414" stroke-width="0.6">10</text>
<text x="578.8" y="694.0999999999999" font-size="10.6" fill="#141414" font-weight="bold" text-anchor="start" font-family="Liberation Sans, sans-serif" textLength="10.5" lengthAdjust="spacingAndGlyphs" stroke="#141414" stroke-width="0.6">12</text>
<text x="628.8" y="694.0999999999999" font-size="10.6" fill="#141414" font-weight="bold" text-anchor="start" font-family="Liberation Sans, sans-serif" textLength="11.3" lengthAdjust="spacingAndGlyphs" stroke="#141414" stroke-width="0.6">10</text>
<text x="676" y="702.0" font-size="10.6" fill="#141414" font-weight="bold" text-anchor="start" font-family="Liberation Sans, sans-serif" textLength="11.0" lengthAdjust="spacingAndGlyphs" stroke="#141414" stroke-width="0.6">12</text>
<line x1="564.5" y1="704" x2="655.7" y2="704" stroke="#7a7420" stroke-width="1.1" stroke-dasharray="5 2.5"/>
<line x1="563" y1="671" x2="563" y2="732" stroke="#1c0c06" stroke-width="1.9" />
<line x1="562.7" y1="693" x2="562.7" y2="711.5" stroke="#1c0c06" stroke-width="2.6" />
<circle cx="563" cy="691.7" r="2.1" fill="#fffbe0" stroke="#1c0c06" stroke-width="0.9"/>
<circle cx="563" cy="713" r="2.1" fill="#fffbe0" stroke="#1c0c06" stroke-width="0.9"/>
<line x1="657.2" y1="671" x2="657.2" y2="732" stroke="#1c0c06" stroke-width="1.9" />
<line x1="656.9000000000001" y1="693" x2="656.9000000000001" y2="711.5" stroke="#1c0c06" stroke-width="2.6" />
<circle cx="657.2" cy="691.7" r="2.1" fill="#fffbe0" stroke="#1c0c06" stroke-width="0.9"/>
<circle cx="657.2" cy="713" r="2.1" fill="#fffbe0" stroke="#1c0c06" stroke-width="0.9"/>
<rect x="559.9" y="732.1999999999999" width="6.2" height="8.2" fill="#a8b030" stroke="#34340a" stroke-width="1.2" />
<circle cx="563" cy="734.5" r="1.9" fill="#e8f290" stroke="none" stroke-width="0"/>
<circle cx="563" cy="738.37" r="1.9" fill="#e8f290" stroke="none" stroke-width="0"/>
<rect x="654.1" y="732.1999999999999" width="6.2" height="8.2" fill="#a8b030" stroke="#34340a" stroke-width="1.2" />
<circle cx="657.2" cy="734.5" r="1.9" fill="#e8f290" stroke="none" stroke-width="0"/>
<circle cx="657.2" cy="738.37" r="1.9" fill="#e8f290" stroke="none" stroke-width="0"/>
<line x1="563" y1="741" x2="657.2" y2="741" stroke="#585a80" stroke-width="1.2" stroke-dasharray="6.5 3"/>
<text x="555.5" y="749" font-size="6.6" fill="#50505e" font-weight="bold" text-anchor="middle" font-family="Liberation Sans, sans-serif" >2</text>
<text x="649.7" y="749" font-size="6.6" fill="#50505e" font-weight="bold" text-anchor="middle" font-family="Liberation Sans, sans-serif" >1</text>
<text x="662.7" y="749.5" font-size="8.7" fill="#3c3e68" font-weight="normal" text-anchor="start" font-family="Liberation Sans, sans-serif" stroke="#3c3e68" stroke-width="0.35">D33</text>
<line x1="563" y1="741" x2="563" y2="833" stroke="#1c76d4" stroke-width="3.4" />
<line x1="657.2" y1="741" x2="657.2" y2="833" stroke="#1c9a1c" stroke-width="3.4" />
<line x1="566" y1="837" x2="654.2" y2="837" stroke="#585a80" stroke-width="1.2" stroke-dasharray="6.5 3"/>
<polyline points="559.4,839.3 563,836.3 566.6,839.3" fill="none" stroke="#3a2a18" stroke-width="1.4"/>
<polyline points="559.4,835.3 563,832.3 566.6,835.3" fill="none" stroke="#3a2a18" stroke-width="1.4"/>
<polyline points="653.6,839.3 657.2,836.3 660.8000000000001,839.3" fill="none" stroke="#3a2a18" stroke-width="1.4"/>
<polyline points="653.6,835.3 657.2,832.3 660.8000000000001,835.3" fill="none" stroke="#3a2a18" stroke-width="1.4"/>
<text x="556.5" y="830.5" font-size="6.6" fill="#50505e" font-weight="bold" text-anchor="middle" font-family="Liberation Sans, sans-serif" >2</text>
<text x="649.7" y="830.5" font-size="6.6" fill="#50505e" font-weight="bold" text-anchor="middle" font-family="Liberation Sans, sans-serif" >1</text>
<text x="662.7" y="830.8" font-size="8.7" fill="#3c3e68" font-weight="normal" text-anchor="start" font-family="Liberation Sans, sans-serif" stroke="#3c3e68" stroke-width="0.35">D32</text>
<rect x="576.3" y="851" width="68.3" height="40" fill="#f4fa58" stroke="#3a3010" stroke-width="1.1" />
<polyline points="563,836 563,871 657.2,871 657.2,836" fill="none" stroke="#141826" stroke-width="1.8" stroke-linejoin="miter" />
<rect x="595" y="867.3" width="4.6" height="7.5" fill="#fffce8" stroke="#1c0c06" stroke-width="1" rx="1.5"/>
<rect x="620.4" y="867.3" width="4.6" height="7.5" fill="#fffce8" stroke="#1c0c06" stroke-width="1" rx="1.5"/>
<circle cx="610" cy="871" r="10.3" fill="#fbf8ee" stroke="#1c0c06" stroke-width="1.4"/>
<text x="610" y="875" font-size="9" fill="#4a4070" font-weight="normal" text-anchor="middle" font-family="Liberation Sans, sans-serif" >M</text>
<text x="558.3" y="889.5" font-size="11.4" fill="#141414" font-weight="bold" text-anchor="start" font-family="Liberation Sans, sans-serif" textLength="13.5" lengthAdjust="spacingAndGlyphs" stroke="#141414" stroke-width="0.5">25</text>
</g>
<rect x="737.4" y="524.4" width="56" height="62.2" fill="#1f3a58" stroke="none" stroke-width="0" />
<text x="768.3" y="564.5" font-size="23" fill="#f4f4f4" font-weight="bold" text-anchor="middle" font-family="Liberation Sans, sans-serif" textLength="41.5" lengthAdjust="spacingAndGlyphs">219</text>
<text transform="translate(775.3,669.4) rotate(-90)" font-size="19" fill="#1f3a58" stroke="#1f3a58" stroke-width="0.6" font-weight="bold" text-anchor="middle" textLength="137" lengthAdjust="spacingAndGlyphs" font-family="Liberation Sans, sans-serif">ПРИЛОЖЕНИЯ</text>
<g filter="url(#sb)">
<text x="38" y="923.5" font-size="10.6" fill="#262a40" stroke="#262a40" stroke-width="0.3" textLength="678" lengthAdjust="spacingAndGlyphs" font-family="Liberation Sans, sans-serif" xml:space="preserve"><tspan>левого переднего стекла; </tspan><tspan font-weight="bold" fill="#101010">10</tspan><tspan> — вниз; </tspan><tspan font-weight="bold" fill="#101010">11</tspan><tspan> — отключенс; </tspan><tspan font-weight="bold" fill="#101010">12</tspan><tspan> — вверх; </tspan><tspan font-weight="bold" fill="#101010">13</tspan><tspan> — переключатель правого переднего стекла; </tspan><tspan font-weight="bold" fill="#101010">14</tspan><tspan> — блок реле в са-</tspan></text>
<text x="38" y="937.2" font-size="10.6" fill="#262a40" stroke="#262a40" stroke-width="0.3" textLength="678" lengthAdjust="spacingAndGlyphs" font-family="Liberation Sans, sans-serif" xml:space="preserve"><tspan>лоне; </tspan><tspan font-weight="bold" fill="#101010">15</tspan><tspan> — реле электростеклоподъемников; </tspan><tspan font-weight="bold" fill="#101010">16</tspan><tspan> — переключатель правого переднего стекла; </tspan><tspan font-weight="bold" fill="#101010">17</tspan><tspan> — электродвигатель левого переднего</tspan></text>
<text x="38" y="951" font-size="10.6" fill="#262a40" stroke="#262a40" stroke-width="0.3" textLength="677.5" lengthAdjust="spacingAndGlyphs" font-family="Liberation Sans, sans-serif" xml:space="preserve"><tspan>стекла; </tspan><tspan font-weight="bold" fill="#101010">18</tspan><tspan> — электродвигатель правого переднего стекла; </tspan><tspan font-weight="bold" fill="#101010">19</tspan><tspan> — переключатель левого заднего стекла; </tspan><tspan font-weight="bold" fill="#101010">20</tspan><tspan> — выключатель (кнопка блоки-</tspan></text>
<text x="38" y="964.8" font-size="10.6" fill="#262a40" stroke="#262a40" stroke-width="0.3" textLength="677.5" lengthAdjust="spacingAndGlyphs" font-family="Liberation Sans, sans-serif" xml:space="preserve"><tspan>ровки) электростеклоподъемников; </tspan><tspan font-weight="bold" fill="#101010">21</tspan><tspan> — переключатель правого заднего стекла; </tspan><tspan font-weight="bold" fill="#101010">22</tspan><tspan> — переключатель левого заднего стекла; </tspan><tspan font-weight="bold" fill="#101010">23</tspan><tspan> — пе-</tspan></text>
<text x="38" y="978.5" font-size="10.6" fill="#262a40" stroke="#262a40" stroke-width="0.3" textLength="656" lengthAdjust="spacingAndGlyphs" font-family="Liberation Sans, sans-serif" xml:space="preserve"><tspan>реключатель правого заднего стекла; </tspan><tspan font-weight="bold" fill="#101010">24</tspan><tspan> — электродвигатель левого заднего стекла; </tspan><tspan font-weight="bold" fill="#101010">25</tspan><tspan> — электродвигатель правого заднего стекла</tspan></text>
</g>
</svg>
</body></html>
